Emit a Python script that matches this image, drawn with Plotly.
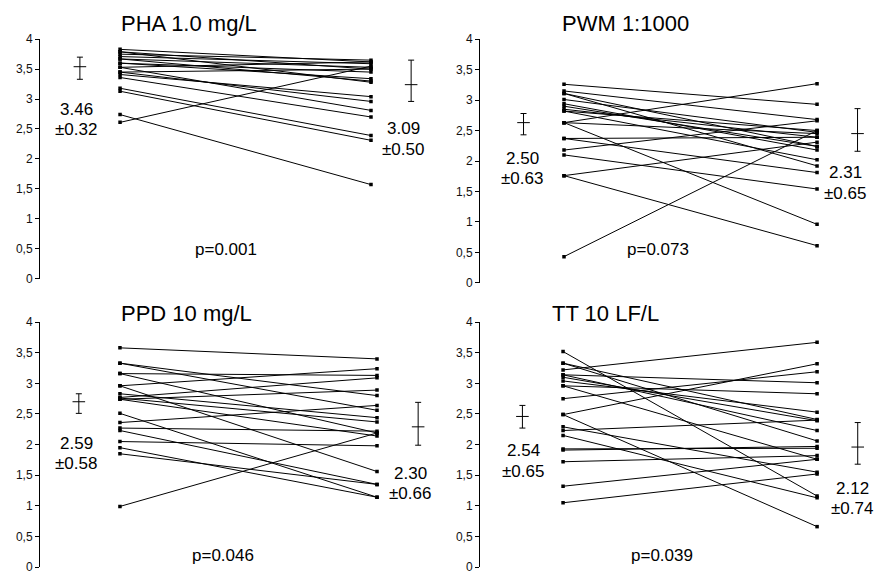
import plotly.graph_objects as go

# ---------------- data ----------------
titles = ["PHA 1.0 mg/L", "PWM 1:1000", "PPD 10 mg/L", "TT 10 LF/L"]

pha_before = [3.83, 3.79, 3.79, 3.75, 3.71, 3.67, 3.53, 3.60, 3.45, 3.41, 3.36, 3.18, 3.13, 2.74, 2.61, 3.60, 3.67, 3.53, 3.45]
pha_after = [3.62, 3.50, 3.28, 3.65, 3.59, 3.53, 2.81, 3.45, 2.96, 3.04, 2.70, 2.39, 2.31, 1.57, 3.55, 3.34, 3.30, 3.62, 3.50]

pwm_before = [3.26, 3.15, 3.11, 3.11, 3.01, 2.94, 2.82, 2.82, 2.63, 2.63, 2.63, 2.37, 2.37, 2.18, 2.10, 1.76, 1.76, 0.43, 2.85, 2.90]
pwm_after = [2.93, 2.68, 2.24, 1.92, 2.47, 2.18, 2.50, 2.02, 3.27, 0.96, 2.45, 2.39, 1.81, 2.66, 1.54, 2.31, 0.61, 2.50, 2.39, 2.24]

ppd_before = [3.58, 3.33, 3.16, 3.16, 2.96, 2.96, 2.83, 2.77, 2.74, 2.74, 2.76, 2.51, 2.36, 2.27, 2.23, 2.05, 1.95, 1.85, 0.99, 3.33]
ppd_after = [3.40, 2.80, 3.13, 2.19, 1.56, 3.24, 2.44, 3.09, 2.89, 2.14, 2.37, 1.14, 2.64, 2.22, 1.35, 1.98, 1.14, 1.35, 2.19, 2.56]

tt_before = [3.52, 3.33, 3.33, 3.22, 3.14, 3.10, 3.04, 2.96, 2.96, 2.75, 2.49, 2.49, 2.29, 2.23, 2.15, 1.93, 1.91, 1.72, 1.32, 1.05, 3.14]
tt_after = [1.16, 2.06, 2.41, 3.67, 3.01, 2.39, 2.53, 2.83, 1.76, 3.19, 3.32, 0.66, 1.55, 2.40, 1.13, 1.94, 1.97, 1.82, 1.76, 1.52, 2.23]

err_center_before = [3.54, 2.63, 2.70, 2.46]
err_hi_before = [3.70, 2.78, 2.83, 2.64]
err_lo_before = [3.33, 2.43, 2.51, 2.27]
err_center_after = [3.24, 2.45, 2.29, 1.96]
err_hi_after = [3.65, 2.86, 2.69, 2.36]
err_lo_after = [2.96, 2.16, 1.99, 1.68]

mean_before = ["3.46", "2.50", "2.59", "2.54"]
sd_before = ["±0.32", "±0.63", "±0.58", "±0.65"]
mean_after = ["3.09", "2.31", "2.30", "2.12"]
sd_after = ["±0.50", "±0.65", "±0.66", "±0.74"]
p_values = ["p=0.001", "p=0.073", "p=0.046", "p=0.039"]

tick_vals = [0, 0.5, 1, 1.5, 2, 2.5, 3, 3.5, 4]
tick_text = ["0", "0,5", "1", "1,5", "2", "2,5", "3", "3,5", "4"]

# ---------------- layout helpers ----------------
W, H = 875, 576
FONT = "Arial, Liberation Sans, sans-serif"

def px(x):
    return x / W

def py(y):
    return 1 - y / H

panels = [
    dict(before=pha_before, after=pha_after, xdom=(40, 440), yrange_px=(33, 278.3), xr=(-0.319, 1.275)),
    dict(before=pwm_before, after=pwm_after, xdom=(480, 875), yrange_px=(33, 282.7), xr=(-0.332, 1.229)),
    dict(before=ppd_before, after=ppd_after, xdom=(40, 440), yrange_px=(323, 574), xr=(-0.311, 1.245)),
    dict(before=tt_before, after=tt_after, xdom=(480, 875), yrange_px=(323, 574), xr=(-0.327, 1.228)),
]

# annotation pixel positions (layout only)
title_pos = [(189, 17), (625, 17), (186, 314), (605, 314)]
mb_pos = [(76, 105), (522, 155), (76, 447), (523, 455)]
ma_pos = [(403, 125), (845, 170), (410, 478), (852, 493)]
p_pos = [(226, 249), (658, 249), (223, 562), (662, 562)]
LINE_GAP = 21

fig = go.Figure()
annotations = []
layout_axes = {}

for i, pnl in enumerate(panels):
    n = i + 1
    xa = "x" if n == 1 else f"x{n}"
    ya = "y" if n == 1 else f"y{n}"
    xs, ys = [], []
    for b, a in zip(pnl["before"], pnl["after"]):
        xs += [0, 1, None]
        ys += [b, a, None]
    fig.add_trace(go.Scatter(
        x=xs, y=ys, mode="lines+markers", xaxis=xa, yaxis=ya,
        line=dict(color="black", width=1),
        marker=dict(color="black", size=3.5, symbol="square"),
        showlegend=False, hoverinfo="skip"))
    # error bars
    cb, ca = err_center_before[i], err_center_after[i]
    fig.add_trace(go.Scatter(
        x=[-0.16, 1.16], y=[cb, ca], mode="markers", xaxis=xa, yaxis=ya,
        marker=dict(symbol="line-ew", size=9, line=dict(color="black", width=1)),
        error_y=dict(type="data", symmetric=False,
                     array=[err_hi_before[i] - cb, err_hi_after[i] - ca],
                     arrayminus=[cb - err_lo_before[i], ca - err_lo_after[i]],
                     color="black", thickness=1, width=3),
        showlegend=False, hoverinfo="skip"))

    x0, x1 = pnl["xdom"]
    ytop, ybot = pnl["yrange_px"]
    layout_axes[f"xaxis{'' if n == 1 else n}"] = dict(
        domain=[px(x0), px(x1)], range=list(pnl["xr"]), visible=False,
        anchor=ya, fixedrange=True)
    layout_axes[f"yaxis{'' if n == 1 else n}"] = dict(
        domain=[py(ybot), py(ytop)], range=[0, 4], anchor=xa,
        tickvals=tick_vals, ticktext=tick_text, ticks="outside", ticklen=4,
        tickcolor="black", showline=True, linecolor="black", linewidth=1,
        showgrid=False, zeroline=False, fixedrange=True,
        tickfont=dict(family=FONT, size=12, color="#111"))

    def ann(text, pos, size, dy=0):
        annotations.append(dict(
            text=text, x=px(pos[0]), y=py(pos[1] + dy), xref="paper", yref="paper",
            showarrow=False, xanchor="center", yanchor="middle",
            font=dict(family=FONT, size=size, color="black")))

    ann(titles[i], title_pos[i], 22)
    ann(mean_before[i], mb_pos[i], 17)
    ann(sd_before[i], mb_pos[i], 17, LINE_GAP)
    ann(mean_after[i], ma_pos[i], 17)
    ann(sd_after[i], ma_pos[i], 17, LINE_GAP)
    ann(p_values[i], p_pos[i], 17)

fig.update_layout(
    width=W, height=H,
    margin=dict(l=0, r=0, t=0, b=0),
    paper_bgcolor="white", plot_bgcolor="white",
    annotations=annotations,
    hovermode=False,
    **layout_axes)

fig.write_html(
    "out.html",
    config={"displayModeBar": False, "staticPlot": True},
    post_script="document.body.style.margin='0';document.body.style.padding='0';document.body.style.overflow='hidden';")
